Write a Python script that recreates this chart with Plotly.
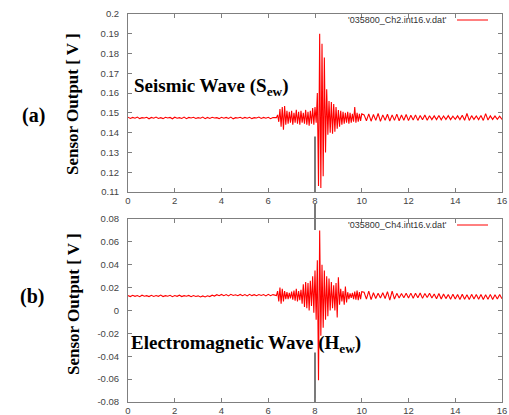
import plotly.graph_objects as go

# ---------------- data ----------------
top_pre = [0.1478,0.1472,0.1477,0.1473,0.1479,0.1471,0.1476,0.1474,0.1478,0.1470,
           0.1477,0.1473,0.1479,0.1472,0.1476,0.1471,0.1478,0.1474,0.1477,0.1470,
           0.1478,0.1473,0.1476,0.1472,0.1479,0.1471,0.1477,0.1474,0.1478,0.1472,
           0.1476,0.1473,0.1479,0.1471,0.1477,0.1472,0.1478,0.1474,0.1476,0.1471,
           0.1478,0.1473,0.1477,0.1472,0.1479,0.1470,0.1476,0.1474,0.1478,0.1472,
           0.1477,0.1473,0.1478,0.1471,0.1476,0.1474,0.1479,0.1472,0.1477,0.1473,
           0.1478,0.1471,0.1477,0.1474]
top_evt = [0.1476,0.1490,0.1455,0.1520,0.1430,0.1530,0.1415,0.1535,0.1440,0.1510,
           0.1445,0.1505,0.1450,0.1510,0.1440,0.1500,0.1450,0.1515,0.1445,0.1505,
           0.1440,0.1510,0.1450,0.1500,0.1445,0.1515,0.1440,0.1505,0.1435,0.1510,
           0.1445,0.1525,0.1440,0.1530,0.1450,0.1600,0.1130,0.1900,0.1120,0.1850,
           0.1180,0.1780,0.1300,0.1620,0.1390,0.1560,0.1400,0.1555,0.1395,0.1545,
           0.1405,0.1530,0.1420,0.1515,0.1430,0.1510,0.1440,0.1505,0.1445,0.1500,
           0.1450,0.1505,0.1445,0.1500,0.1450,0.1495,0.1455,0.1530,0.1450,0.1500,
           0.1455,0.1495,0.1460,0.1495]
top_post = [0.1490,0.1460,0.1495,0.1458,0.1492,0.1462,0.1497,0.1457,0.1490,0.1463,
            0.1493,0.1459,0.1490,0.1462,0.1494,0.1460,0.1489,0.1463,0.1492,0.1461,
            0.1488,0.1464,0.1490,0.1462,0.1487,0.1465,0.1489,0.1463,0.1486,0.1466,
            0.1485,0.1466,0.1487,0.1465,0.1484,0.1467,0.1486,0.1466,0.1483,0.1468,
            0.1485,0.1466,0.1488,0.1463,0.1497,0.1462,0.1486,0.1467,0.1484,0.1466,
            0.1487,0.1462,0.1496,0.1464,0.1485,0.1467,0.1484,0.1468,0.1483,0.1467]

bot_pre = [0.0130,0.0122,0.0133,0.0124,0.0131,0.0121,0.0134,0.0125,0.0130,0.0122,
           0.0133,0.0123,0.0131,0.0124,0.0135,0.0122,0.0130,0.0125,0.0133,0.0121,
           0.0131,0.0124,0.0134,0.0122,0.0130,0.0125,0.0132,0.0121,0.0131,0.0123,
           0.0128,0.0118,0.0127,0.0119,0.0129,0.0122,0.0134,0.0126,0.0138,0.0129,
           0.0140,0.0130,0.0139,0.0128,0.0141,0.0131,0.0138,0.0129,0.0140,0.0130,
           0.0139,0.0128,0.0141,0.0130,0.0138,0.0129,0.0140,0.0131,0.0139,0.0128,
           0.0141,0.0130,0.0139,0.0129]
bot_evt = [0.0130,0.0170,0.0080,0.0200,0.0060,0.0190,0.0080,0.0170,0.0100,0.0160,
           0.0100,0.0155,0.0105,0.0165,0.0095,0.0175,0.0085,0.0190,0.0080,0.0170,
           0.0090,0.0180,0.0060,0.0230,0.0030,0.0250,0.0020,0.0240,0.0000,0.0260,
           0.0040,0.0300,-0.0020,0.0350,-0.0080,0.0440,-0.0610,0.0700,-0.0220,0.0400,
           -0.0150,0.0350,-0.0080,0.0300,-0.0050,0.0280,0.0000,0.0250,0.0020,0.0220,
           0.0000,0.0240,-0.0060,0.0290,0.0050,0.0190,0.0080,0.0170,0.0050,0.0210,
           0.0070,0.0160,0.0100,0.0150,0.0110,0.0155,0.0100,0.0165,0.0095,0.0175,
           0.0090,0.0160,0.0100,0.0165]
bot_post = [0.0160,0.0100,0.0170,0.0095,0.0155,0.0105,0.0150,0.0110,0.0155,0.0105,
            0.0165,0.0090,0.0170,0.0100,0.0150,0.0110,0.0148,0.0112,0.0150,0.0110,
            0.0152,0.0108,0.0150,0.0112,0.0153,0.0106,0.0149,0.0113,0.0151,0.0109,
            0.0145,0.0103,0.0148,0.0100,0.0144,0.0104,0.0140,0.0098,0.0143,0.0101,
            0.0140,0.0097,0.0142,0.0099,0.0138,0.0096,0.0141,0.0100,0.0139,0.0098,
            0.0140,0.0097,0.0138,0.0099,0.0141,0.0096,0.0137,0.0100,0.0139,0.0102]

seg_start = [0.0, 6.35, 10.1]
seg_step = [0.1, 0.05, 0.1]

event_time = 8.0
top_marker = [0.11, 0.138]
bot_marker = [-0.08, -0.0367]

x_ticks = [0, 2, 4, 6, 8, 10, 12, 14, 16]
x_ticktext = ["0", "2", "4", "6", "8", "10", "12", "14", "16"]
top_yticks = [0.11, 0.12, 0.13, 0.14, 0.15, 0.16, 0.17, 0.18, 0.19, 0.2]
top_yticktext = ["0.11", "0.12", "0.13", "0.14", "0.15", "0.16", "0.17", "0.18", "0.19", "0.2"]
bot_yticks = [-0.08, -0.06, -0.04, -0.02, 0, 0.02, 0.04, 0.06, 0.08]
bot_yticktext = ["-0.08", "-0.06", "-0.04", "-0.02", "0", "0.02", "0.04", "0.06", "0.08"]

top_name = "'035800_Ch2.int16.v.dat'"
bot_name = "'035800_Ch4.int16.v.dat'"


def build_t(segs):
    t = []
    for s0, ds, seg in zip(seg_start, seg_step, segs):
        t += [round(s0 + i * ds, 4) for i in range(len(seg))]
    return t


t_top = build_t([top_pre, top_evt, top_post])
v_top = top_pre + top_evt + top_post
t_bot = build_t([bot_pre, bot_evt, bot_post])
v_bot = bot_pre + bot_evt + bot_post

# ---------------- figure ----------------
W, H = 509, 415


def px(p):
    return p / W


def py(p):
    return 1 - p / H


RED = "#ff0000"
fig = go.Figure()
fig.add_trace(go.Scatter(x=t_top, y=v_top, mode="lines", line=dict(color=RED, width=1.1),
                         name=top_name, xaxis="x", yaxis="y", showlegend=False))
fig.add_trace(go.Scatter(x=t_bot, y=v_bot, mode="lines", line=dict(color=RED, width=1.1),
                         name=bot_name, xaxis="x2", yaxis="y2", showlegend=False))

tickfont = dict(family="Liberation Sans", size=9.5, color="#444444")
common = dict(showline=True, linecolor="#7f7f7f", linewidth=1, mirror="ticks",
              ticks="inside", ticklen=4, tickcolor="#7f7f7f", showgrid=False,
              zeroline=False, tickfont=tickfont, automargin=False, fixedrange=True)

xdom = [px(128), px(502)]
fig.update_layout(
    width=W, height=H, margin=dict(l=0, r=0, t=0, b=0),
    paper_bgcolor="white", plot_bgcolor="white", showlegend=False,
    xaxis=dict(domain=xdom, range=[0, 16], tickvals=x_ticks, ticktext=x_ticktext,
               anchor="y", **common),
    yaxis=dict(domain=[py(192), py(14)], range=[0.11, 0.2], tickvals=top_yticks,
               ticktext=top_yticktext, anchor="x", ticklabelstandoff=6, **common),
    xaxis2=dict(domain=xdom, range=[0, 16], tickvals=x_ticks, ticktext=x_ticktext,
                anchor="y2", **common),
    yaxis2=dict(domain=[py(402), py(219)], range=[-0.08, 0.08], tickvals=bot_yticks,
                ticktext=bot_yticktext, anchor="x2", ticklabelstandoff=6, **common),
)

GRAY = "#7a7a7a"
shapes = [
    dict(type="line", xref="x", yref="y", x0=event_time, x1=event_time,
         y0=top_marker[0], y1=top_marker[1], line=dict(color=GRAY, width=2), layer="below"),
    dict(type="line", xref="x2", yref="paper", x0=event_time, x1=event_time,
         y0=py(230), y1=py(204), line=dict(color=GRAY, width=2)),
    dict(type="line", xref="x2", yref="y2", x0=event_time, x1=event_time,
         y0=bot_marker[0], y1=bot_marker[1], line=dict(color=GRAY, width=2), layer="below"),
    # legend samples
    dict(type="line", xref="paper", yref="paper", x0=px(457), x1=px(488),
         y0=py(20), y1=py(20), line=dict(color=RED, width=1)),
    dict(type="line", xref="paper", yref="paper", x0=px(457), x1=px(488),
         y0=py(225), y1=py(225), line=dict(color=RED, width=1)),
]
fig.update_layout(shapes=shapes)

serif = "Liberation Serif"
ann = [
    dict(text=top_name, x=px(449), y=py(20), xanchor="right", yanchor="middle",
         font=dict(family="Liberation Sans", size=9, color="#333333")),
    dict(text=bot_name, x=px(449), y=py(225), xanchor="right", yanchor="middle",
         font=dict(family="Liberation Sans", size=9, color="#333333")),
    dict(text="<b>(a)</b>", x=px(33), y=py(116), xanchor="center", yanchor="middle",
         font=dict(family=serif, size=20, color="black")),
    dict(text="<b>(b)</b>", x=px(32), y=py(296), xanchor="center", yanchor="middle",
         font=dict(family=serif, size=20, color="black")),
    dict(text="<b>Sensor Output [ V ]</b>", x=px(73), y=py(104), textangle=-90,
         xanchor="center", yanchor="middle", font=dict(family=serif, size=17, color="black")),
    dict(text="<b>Sensor Output [ V ]</b>", x=px(73), y=py(304), textangle=-90,
         xanchor="center", yanchor="middle", font=dict(family=serif, size=17, color="black")),
    dict(text="<b>Seismic Wave (S<sub>ew</sub>)</b>", x=px(132), y=py(87),
         xanchor="left", yanchor="middle", font=dict(family=serif, size=19, color="black")),
    dict(text="<b>Electromagnetic Wave (H<sub>ew</sub>)</b>", x=px(129), y=py(344),
         xanchor="left", yanchor="middle", font=dict(family=serif, size=19, color="black")),
]
for a in ann:
    a.update(xref="paper", yref="paper", showarrow=False)
fig.update_layout(annotations=ann)

fig.write_html("out.html", config={"displayModeBar": False},
               post_script="document.body.style.margin='0px';")
